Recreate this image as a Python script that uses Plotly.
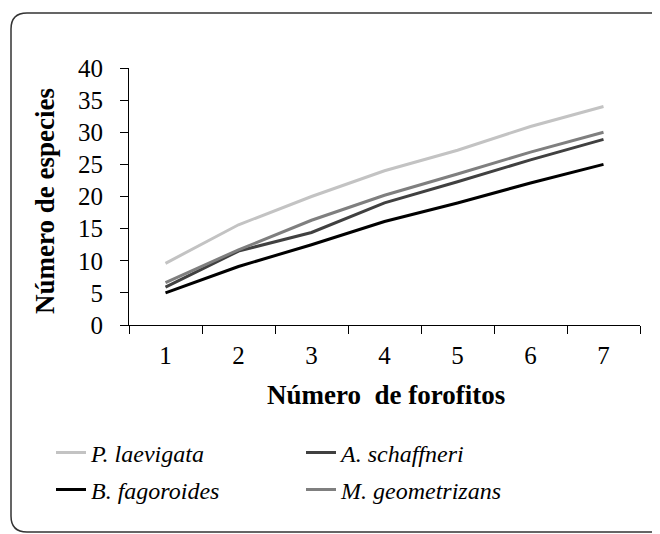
import plotly.graph_objects as go

forofitos = ["1", "2", "3", "4", "5", "6", "7"]
p_laevigata = [9.6, 15.6, 20.0, 24.0, 27.2, 30.9, 34.0]
a_schaffneri = [5.9, 11.5, 14.4, 19.0, 22.3, 25.7, 28.9]
b_fagoroides = [5.0, 9.1, 12.5, 16.1, 19.0, 22.1, 25.0]
m_geometrizans = [6.6, 11.7, 16.3, 20.2, 23.5, 26.9, 30.0]

OFF = 8  # page body margin
W, H = 660 - OFF, 534 - OFF
# reference pixel positions of the plot area
PL, PR, PT, PB = 129, 640, 68, 325
L, T = PL - OFF, PT - OFF
R = W - (PR - OFF)
B = H - (PB - OFF)
PW, PH = PR - PL, PB - PT

def px(x):
    return (x - PL) / PW

def py(y):
    return (PB - y) / PH

FONT = "Liberation Serif"

fig = go.Figure()
series = [
    ("P. laevigata", p_laevigata, "#c3c3c3", "legend", 51, 453),
    ("A. schaffneri", a_schaffneri, "#404040", "legend2", 301, 453),
    ("B. fagoroides", b_fagoroides, "#000000", "legend3", 51, 490),
    ("M. geometrizans", m_geometrizans, "#7f7f7f", "legend4", 301, 490),
]
legfont = dict(family=FONT, size=24, color="black", style="italic")
leg_layout = {}
for name, vals, col, lg, lx, ly in series:
    fig.add_trace(go.Scatter(x=forofitos, y=vals, mode="lines", name=name,
                             line=dict(color=col, width=3), legend=lg))
    leg_layout[lg] = dict(x=px(lx), y=py(ly), xanchor="left", yanchor="middle",
                          font=legfont, bgcolor="rgba(0,0,0,0)", itemwidth=30)

# rounded frame
x0, x1, y0, y1, r = 11, 668, 13, 532, 16
rx, ry = r / PW, r / PH
X0, X1, Y0, Y1 = px(x0), px(x1), py(y1), py(y0)
path = (f"M {X0+rx},{Y1} L {X1-rx},{Y1} Q {X1},{Y1} {X1},{Y1-ry} "
        f"L {X1},{Y0+ry} Q {X1},{Y0} {X1-rx},{Y0} L {X0+rx},{Y0} "
        f"Q {X0},{Y0} {X0},{Y0+ry} L {X0},{Y1-ry} Q {X0},{Y1} {X0+rx},{Y1} Z")
fig.add_shape(type="path", path=path, xref="paper", yref="paper",
              line=dict(color="#333333", width=1.5), layer="below")

fig.add_annotation(text="<b>Número de especies</b>", xref="paper", yref="paper",
                   x=px(45), y=py(201), textangle=-90, showarrow=False,
                   xanchor="center", yanchor="middle",
                   font=dict(family=FONT, size=27, color="black"))
fig.add_annotation(text="<b>Número  de forofitos</b>", xref="paper", yref="paper",
                   x=px(386), y=py(395), showarrow=False,
                   xanchor="center", yanchor="middle",
                   font=dict(family=FONT, size=27, color="black"))

fig.update_layout(
    width=W, height=H,
    margin=dict(l=L, r=R, t=T, b=B, pad=0),
    plot_bgcolor="white", paper_bgcolor="white",
    font=dict(family=FONT, size=22, color="black"),
    showlegend=True,
    xaxis=dict(type="category", range=[-0.5, 6.5], tickson="boundaries",
               showline=True, linecolor="black", linewidth=1,
               ticks="outside", ticklen=8, tickcolor="black",
               ticklabelstandoff=8,
               showgrid=False, zeroline=False,
               tickfont=dict(family=FONT, size=25, color="black")),
    yaxis=dict(range=[0, 40], dtick=5, showline=True, linecolor="black",
               linewidth=1, ticks="outside", ticklen=8, tickcolor="black",
               ticklabelstandoff=12,
               showgrid=False, zeroline=False,
               tickfont=dict(family=FONT, size=25, color="black")),
    **leg_layout,
)

fig.write_html("out.html")
